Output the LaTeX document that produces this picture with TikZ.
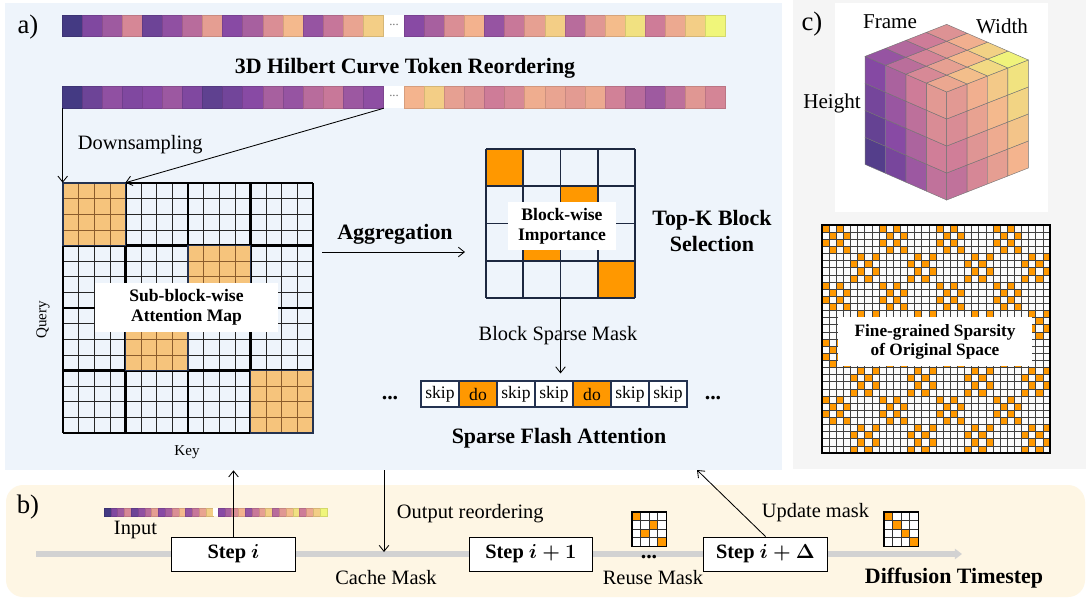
\documentclass[tikz,border=0pt]{standalone}
\usepackage{fontspec}
\setmainfont{Liberation Serif}
\usetikzlibrary{positioning,arrows.meta,calc,fit}

\definecolor{PanelBlue}{RGB}{238,244,251}
\definecolor{PanelGray}{RGB}{245,245,245}
\definecolor{PanelCream}{RGB}{254,246,228}
\definecolor{Sand}{RGB}{246,196,124}
\definecolor{SandLine}{RGB}{139,92,44}
\definecolor{Tangerine}{RGB}{255,152,0}
\definecolor{Navy}{RGB}{36,50,80}
\definecolor{Track}{RGB}{210,210,210}
% purple-to-yellow scale
\definecolor{RampA}{RGB}{68,58,131}
\definecolor{RampB}{RGB}{136,74,164}
\definecolor{RampC}{RGB}{206,124,152}
\definecolor{RampD}{RGB}{244,180,142}
\definecolor{RampE}{RGB}{240,246,122}

\newcommand{\fsText}{\fontsize{14.5}{17}\selectfont}
\newcommand{\fsHead}{\fontsize{15.6}{17.8}\selectfont\bfseries}
\newcommand{\fsBox}{\fontsize{12.5}{14.3}\selectfont\bfseries}
\newcommand{\fsAxis}{\fontsize{10.7}{12}\selectfont}
\newcommand{\fsTag}{\fontsize{19}{22}\selectfont}

% colour "ramp" at position #1 (0..1) of the scale
\newcommand{\rampcolor}[1]{%
  \pgfmathsetmacro{\rampt}{4*min(max(#1,0),1)}%
  \pgfmathtruncatemacro{\rampi}{min(floor(\rampt),3)}%
  \pgfmathsetmacro{\rampp}{100-100*(\rampt-\rampi)}%
  \ifcase\rampi\relax \colorlet{ramp}{RampA!\rampp!RampB}%
  \or \colorlet{ramp}{RampB!\rampp!RampC}%
  \or \colorlet{ramp}{RampC!\rampp!RampD}%
  \or \colorlet{ramp}{RampD!\rampp!RampE}\fi}

% token row: x, y, cell width, cell height, list of scale values
\newcommand{\tokenrow}[5]{%
  \foreach \tv [count=\k from 0] in #5 {%
    \rampcolor{\tv}%
    \fill[ramp, draw=ramp!88!black, line width=0.2pt] ({#1+\k*#3},#2) rectangle ++(#3,#4);}}

% small 4x4 mask: x, y, cell size, orange cells row/col
\newcommand{\minimask}[4]{%
  \fill[white] (#1,#2) rectangle ++({4*#3},{4*#3});
  \foreach \r/\c in {#4}
    \fill[Tangerine] ({#1+\c*#3},{#2+\r*#3}) rectangle ++(#3,#3);
  \foreach \j in {1,2,3}{
    \draw[black!80, line width=0.5pt] ({#1+\j*#3},#2) -- ++(0,{4*#3});
    \draw[black!80, line width=0.5pt] (#1,{#2+\j*#3}) -- ++({4*#3},0);}
  \draw[line width=1.1pt] (#1,#2) rectangle ++({4*#3},{4*#3});}

\def\tokA{0,.22,.33,.55,.15,.28,.42,.65,.25,.36,.58,.77,.3,.47,.68,.85}
\def\tokB{.25,.36,.58,.74,.3,.48,.66,.85,.42,.62,.78,.92,.5,.7,.85,1}
\def\tokC{0,.15,.28,.22,.25,.32,.22,.1,.17,.25,.36,.3,.42,.48,.32,.27}
\def\tokD{.75,.85,.66,.6,.5,.56,.72,.68,.64,.7,.52,.42,.33,.44,.62,.54}

\begin{document}
\begin{tikzpicture}[x=0.025cm, y=-0.025cm,
    fitbox/.style={inner sep=0pt, draw=none},
    arrow/.style={-{Straight Barb[length=1.5mm,width=2.4mm]}, line width=0.6pt},
    plain/.style={font=\fsText},
    heading/.style={font=\fsHead, align=center},
    tag/.style={font=\fsTag},
    whitelabel/.style={fill=white, font=\fsBox, align=center, inner sep=0pt},
    fineline/.style={black!85, line width=0.5pt},
    blockline/.style={black, line width=1.5pt},
    impline/.style={Navy!80!black, line width=1.1pt},
    maskcell/.style={draw=Navy, line width=0.8pt, minimum width=0.95cm, minimum height=0.65cm, inner sep=0pt, font=\fontsize{12.5}{14}\selectfont},
    stepbox/.style={draw, fill=white, line width=0.7pt, minimum width=3.075cm, minimum height=0.85cm, inner sep=0pt, font=\fontsize{14.5}{16}\selectfont\bfseries\boldmath},
    track/.style={Track, line width=3.6pt, -{Triangle[length=1.8mm,width=2.6mm]}}
]
\useasboundingbox (0,0) rectangle (1086,599);
\fill[white] (0,0) rectangle (1086,599);

% Panels
\node[fitbox, fill=PanelBlue, fit={(5,3) (782,470)}] (panel-a) {};
\node[fitbox, fill=PanelGray, fit={(793,0) (1086,469)}] (panel-c) {};
\node[fitbox, fill=white, fit={(835,3) (1048,212)}] (cube-card) {};
\node[fitbox, fill=PanelCream, rounded corners=4.25mm, fit={(6,485) (1085,597)}] (panel-b) {};

\node[tag] at (28,27) {a)};
\node[tag] at (812,24) {c)};
\node[tag] at (28,507) {b)};

% Token sequences
\tokenrow{61.7}{15}{20.1}{21}{\tokA}
\tokenrow{404}{15}{20.1}{21}{\tokB}
\tokenrow{61.7}{86}{20.1}{22}{\tokC}
\tokenrow{404}{86}{20.1}{22}{\tokD}
\foreach \y in {15,86}{
  \fill[white] (384,\y) rectangle ++(20,22);
  \node[text=black!55, font=\fontsize{9}{9}\selectfont] at (394,{\y+10}) {...};}
\node[heading] (title) at (405,68) {3D Hilbert Curve Token Reordering};
\node[fitbox, fit={(61.7,86) (383.4,108)}] (reord-left) {};

% Sub-block-wise attention map
\node[fitbox, fit={(63,183) (313,433)}] (attn) {};
\foreach \i in {1,...,15}{
  \draw[fineline] ({63+\i*15.625},183) -- ++(0,250);
  \draw[fineline] (63,{183+\i*15.625}) -- ++(250,0);}
\foreach \i in {0,...,4}{
  \draw[blockline] ({63+\i*62.5},183) -- ++(0,250);
  \draw[blockline] (63,{183+\i*62.5}) -- ++(250,0);}
\foreach \r/\c in {0/0,1/2,2/1,3/3}{
  \begin{scope}[shift={({63+\c*62.5},{183+\r*62.5})}]
    \fill[Sand] (0,0) rectangle (62.5,62.5);
    \foreach \j in {1,2,3}{
      \draw[SandLine, line width=0.5pt] ({\j*15.625},0) -- ++(0,62.5);
      \draw[SandLine, line width=0.5pt] (0,{\j*15.625}) -- ++(62.5,0);}
    \draw[Navy, line width=0.8pt] (0,0) rectangle (62.5,62.5);
  \end{scope}}
\node[whitelabel, minimum width=4.575cm, minimum height=1.225cm] (attn-label) at (186.5,307.5) {Sub-block-wise\\Attention Map};
\node[font=\fsAxis, rotate=90] (query) at (43,320) {Query};
\node[font=\fsAxis] (key) at (187,452) {Key};

% Downsampling
\draw[arrow] (attn.north west |- reord-left.south) -- (attn.north west);
\draw[arrow] (reord-left.south east) -- ($(attn.north west)!0.25!(attn.north east)$);
\node[plain, anchor=west] (down) at (73,145) {Downsampling};

% Aggregation
\coordinate (agg-from) at (322,252);
\coordinate (agg-to) at (465,252);
\draw[arrow] (agg-from) -- (agg-to);
\node[heading] (agg) at (395,234) {Aggregation};

% Block-wise importance
\node[fitbox, fit={(486,149) (635,298)}] (imp) {};
\foreach \r/\c in {0/0,1/2,2/1,3/3}
  \fill[Tangerine] ({486+\c*37.25},{149+\r*37.25}) rectangle ++(37.25,37.25);
\foreach \i in {0,...,4}{
  \draw[impline] ({486+\i*37.25},149) -- ++(0,149);
  \draw[impline] (486,{149+\i*37.25}) -- ++(149,0);}
\node[whitelabel, minimum width=2.7cm, minimum height=1.2cm] (imp-label) at (562,226) {Block-wise\\Importance};
\node[heading] (topk) at (712,231) {Top-K Block\\Selection};

% Sparse flash attention
\node[plain] (bsm) at (558,336) {Block Sparse Mask};
\foreach \lbl/\clr [count=\k from 0] in {skip/white,do/Tangerine,skip/white,skip/white,do/Tangerine,skip/white,skip/white}
  \node[maskcell, fill=\clr] (cell\k) at ({440+\k*38},394) {\lbl};
\draw[arrow, shorten >=1.75mm] (imp.south) -- (imp.south |- cell3.north);
\node[font=\fsHead] at (390,398) {...};
\node[font=\fsHead] at (713,398) {...};
\node[heading] (sfa) at (559,438) {Sparse Flash Attention};

% Voxel cube
\begin{scope}[shift={(946.7,200)}, x={(-0.51cm,0.2225cm)}, y={(0cm,0.675cm)}, z={(0.51cm,0.2cm)},
    voxel/.style={draw=black!55, line width=0.3pt}]
  \foreach \f in {0,...,3}
    \foreach \h in {0,...,3}{
      \rampcolor{0.45-0.13*\f+0.06*\h}
      \fill[ramp, voxel] (\f,\h,0) -- ++(1,0,0) -- ++(0,1,0) -- ++(-1,0,0) -- cycle;}
  \foreach \w in {0,...,3}
    \foreach \h in {0,...,3}{
      \rampcolor{0.45+0.1*\w+0.06*\h}
      \fill[ramp, voxel] (0,\h,\w) -- ++(0,0,1) -- ++(0,1,0) -- ++(0,0,-1) -- cycle;}
  \foreach \f in {0,...,3}
    \foreach \w in {0,...,3}{
      \rampcolor{0.69-0.13*\f+0.1*\w}
      \fill[ramp, voxel] (\f,4,\w) -- ++(1,0,0) -- ++(0,0,1) -- ++(-1,0,0) -- cycle;}
\end{scope}
\node[font=\fontsize{15}{17}\selectfont] at (890,22) {Frame};
\node[font=\fontsize{15}{17}\selectfont] at (1002,26) {Width};
\node[font=\fontsize{15}{17}\selectfont] at (832,103) {Height};

% Fine-grained mask: 8x8 blocks of 4x4 cells
\node[fitbox, fill=white!60!PanelGray, fit={(822,225) (1050,453)}] (fine) {};
\foreach \bi in {0,...,7}
  \foreach \bj in {0,...,7}{
    \pgfmathtruncatemacro{\on}{mod(\bi+\bj,2)}
    \ifnum\on=0\relax
      \foreach \r in {0,...,3}
        \foreach \c in {0,...,3}{
          \pgfmathtruncatemacro{\hit}{mod(\r+\c+\bi,2)}
          \ifnum\hit=0\relax
            \fill[Tangerine] ({822+(4*\bj+\c)*7.125},{225+(4*\bi+\r)*7.125}) rectangle ++(7.125,7.125);
          \fi}
    \fi}
\foreach \i in {1,...,31}{
  \draw[black!75, line width=0.4pt] ({822+\i*7.125},225) -- ++(0,228);
  \draw[black!75, line width=0.4pt] (822,{225+\i*7.125}) -- ++(228,0);}
\draw[line width=1.2pt] (fine.north west) rectangle (fine.south east);
\node[whitelabel, minimum width=4.85cm, minimum height=1.225cm, font=\fontsize{12.3}{13.6}\selectfont\bfseries] (fine-label) at (935,341.5) {Fine-grained Sparsity\\of Original Space};

% Diffusion timeline
\coordinate (tl-start) at (36,554);
\coordinate (tl-end) at (962,554);
\draw[track] (tl-start) -- (tl-end);
\tokenrow{104}{508}{6.8}{8}{\tokA}
\fill[white] (213,508) rectangle (218,516);
\tokenrow{218}{508}{6.8}{8}{\tokB}
\node[plain] (input) at (135.5,530) {Input};

\node[stepbox] (step-i) at (233.5,554) {Step $i$};
\node[stepbox] (step-n) at (531,554) {Step $i+1$};
\node[stepbox] (step-d) at (765.5,554) {Step $i+\Delta$};

\draw[arrow] (step-i.north) -- (step-i.north |- panel-a.south);
\coordinate (cache) at (384,552);
\draw[arrow] (cache |- panel-a.south) -- (cache);
\node[plain, anchor=west] (outre) at (392,514) {Output reordering};
\node[plain] (cache-lbl) at (386,578) {Cache Mask};

\minimask{632}{512}{8.6}{0/0,1/2,2/1,3/3}
\node[font=\fsHead] at (649,557) {...};
\node[plain] (reuse) at (653,578) {Reuse Mask};

\coordinate (upd) at (697,470);
\draw[arrow] (step-d.north) -- (upd);
\node[plain, anchor=west] (upd-lbl) at (757,513) {Update mask};
\minimask{884}{512}{8.6}{0/0,1/1,2/2,3/3}
\node[heading] (dts) at (954,578) {Diffusion Timestep};

\end{tikzpicture}
\end{document}
